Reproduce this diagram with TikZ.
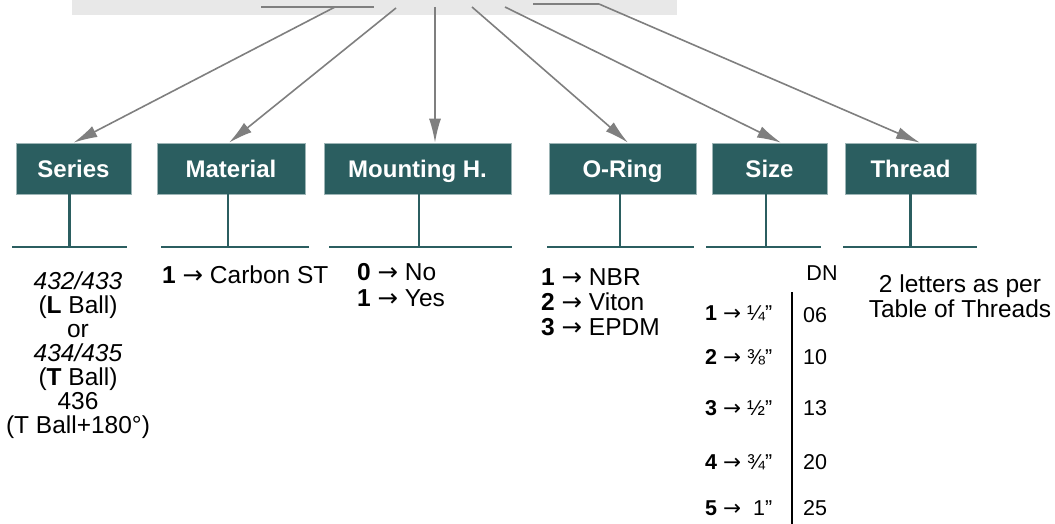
\documentclass[tikz,border=0pt]{standalone}
\usepackage{fontspec}
\setmainfont{Liberation Sans}
\newfontfamily\symfont{DejaVu Sans}
\usepackage{tikz}
\usetikzlibrary{arrows.meta}

\definecolor{boxteal}{HTML}{2B5E60}
\definecolor{boxedge}{HTML}{9DB5B6}
\definecolor{arrowgray}{HTML}{7F7F7F}
\definecolor{barfill}{HTML}{E8E8E8}
\newcommand{\rarr}{{\symfont →}}

\begin{document}
\begin{tikzpicture}[x=1pt, y=-1pt,
      field/.style ={rectangle, fill=boxteal, draw=boxedge, line width=0.6pt,
                     text=white, inner sep=0pt, minimum height=51pt,
                     text height=17.3pt, text depth=0pt,
                     font=\fontsize{24}{25}\selectfont\bfseries},
      note/.style ={inner sep=0pt, font=\fontsize{24.5}{24}\selectfont},
      pointer/.style ={draw=arrowgray, line width=1.6pt, -{Latex[length=24pt,width=12pt]}},
      stem/.style ={draw=boxteal, line width=2.2pt}]

   \useasboundingbox (0,0) rectangle (1055,524);
   \fill[barfill] (72,0) rectangle (677,15.5);

   \node[field, minimum width=115pt] (Ser)  at (73.5,168.5)  {Series};
   \node[field, minimum width=148pt] (Mat)  at (231,168.5)  {Material};
   \node[field, minimum width=187pt] (Mnt)  at (417.5,168.5)  {Mounting H.};
   \node[field, minimum width=147pt] (Ori)  at (622.5,168.5)  {O-Ring};
   \node[field, minimum width=115pt] (Siz)  at (769.5,168.5)  {Size};
   \node[field, minimum width=131pt] (Thr)  at (910.5,168.5)  {Thread};

   % pointers from the code bar
   \coordinate (h1l) at (261,7);
   \coordinate (h1r) at (374,7);
   \coordinate (p1)  at (335,7);
   \coordinate (p2)  at (396,8);
   \coordinate (p3)  at (435,7);
   \coordinate (p4)  at (472,7);
   \coordinate (p5)  at (505,7);
   \coordinate (h6l) at (533,4);
   \coordinate (p6)  at (599,4);

   \draw[arrowgray, line width=1.6pt] (h1l) to (h1r);
   \draw[arrowgray, line width=1.6pt] (h6l) to (p6);

   \draw[pointer] (p1) to (Ser.north);
   \draw[pointer] (p2) to ([xshift=-2pt]Mat.north);
   \draw[pointer] (p3) to ([xshift=17.5pt]Mnt.north);
   \draw[pointer] (p4) to ([xshift=5.5pt]Ori.north);
   \draw[pointer] (p5) to ([xshift=11.5pt]Siz.north);
   \draw[pointer] (p6) to ([xshift=9.5pt]Thr.north);

   % stems and base lines
   \coordinate (SerL) at (12,247);
   \coordinate (SerR) at (127,247);
   \coordinate (MatL) at (161,247);
   \coordinate (MatR) at (309,247);
   \coordinate (MntL) at (329,247);
   \coordinate (MntR) at (512,247);
   \coordinate (OriL) at (547,247);
   \coordinate (OriR) at (694,247);
   \coordinate (SizL) at (706,247);
   \coordinate (SizR) at (821,247);
   \coordinate (ThrL) at (843,247);
   \coordinate (ThrR) at (977,247);

   \draw[stem] (SerL) to (SerR);
   \draw[stem] (MatL) to (MatR);
   \draw[stem] (MntL) to (MntR);
   \draw[stem] (OriL) to (OriR);
   \draw[stem] (SizL) to (SizR);
   \draw[stem] (ThrL) to (ThrR);

   \draw[stem] ([xshift=-4pt]Ser.south) to ([xshift=-4pt]Ser.south |- SerL);
   \draw[stem] ([xshift=-3pt]Mat.south) to ([xshift=-3pt]Mat.south |- MatL);
   \draw[stem] ([xshift=1.5pt]Mnt.south) to ([xshift=1.5pt]Mnt.south |- MntL);
   \draw[stem] ([xshift=-2.5pt]Ori.south) to ([xshift=-2.5pt]Ori.south |- OriL);
   \draw[stem] ([xshift=-3.5pt]Siz.south) to ([xshift=-3.5pt]Siz.south |- SizL);
   \draw[stem] (Thr.south) to (Thr.south |- ThrL);

   % values
   \node[note, align=center] (SerTxt) at (78,355)
      {\textit{432/433}\\(\textbf{L} Ball)\\or\\\textit{434/435}\\(\textbf{T} Ball)\\436\\(T Ball+180°)};
   \node[note, anchor=west] (MatTxt) at (162,275) {\textbf{1} \rarr{} Carbon ST};
   \node[note, anchor=west, align=left, font=\fontsize{24.5}{26}\selectfont] (MntTxt) at (357,285)
      {\textbf{0} \rarr{} No\\\textbf{1} \rarr{} Yes};
   \node[note, anchor=west, align=left, font=\fontsize{24.5}{25}\selectfont] (OriTxt) at (541,302)
      {\textbf{1} \rarr{} NBR\\\textbf{2} \rarr{} Viton\\\textbf{3} \rarr{} EPDM};
   \node[note, align=center, font=\fontsize{24.5}{25}\selectfont] (ThrTxt) at (960,296)
      {2 letters as per\\Table of Threads};

   \node[note, font=\fontsize{21.5}{22}\selectfont] (DN) at (822,273) {DN};
   \coordinate (DNtop) at (792,292);
   \coordinate (DNbot) at (792,524);
   \draw[line width=2pt] (DNtop) to (DNbot);

   \node[note, anchor=west, font=\fontsize{21.5}{22}\selectfont] (S1) at (705,313) {\textbf{1} \rarr{} ¼”};
   \node[note, anchor=west, font=\fontsize{21.5}{22}\selectfont] (S2) at (705,357) {\textbf{2} \rarr{} ⅜”};
   \node[note, anchor=west, font=\fontsize{21.5}{22}\selectfont] (S3) at (705,408) {\textbf{3} \rarr{} ½”};
   \node[note, anchor=west, font=\fontsize{21.5}{22}\selectfont] (S4) at (705,462) {\textbf{4} \rarr{} ¾”};
   \node[note, anchor=west, font=\fontsize{21.5}{22}\selectfont] (S5) at (705,508) {\textbf{5} \rarr{} \ 1”};

   \node[note, anchor=west, font=\fontsize{21.5}{22}\selectfont] (N1) at (803,315) {06};
   \node[note, anchor=west, font=\fontsize{21.5}{22}\selectfont] (N2) at (803,357) {10};
   \node[note, anchor=west, font=\fontsize{21.5}{22}\selectfont] (N3) at (803,408) {13};
   \node[note, anchor=west, font=\fontsize{21.5}{22}\selectfont] (N4) at (803,462) {20};
   \node[note, anchor=west, font=\fontsize{21.5}{22}\selectfont] (N5) at (803,508) {25};
 \end{tikzpicture}
\end{document}
